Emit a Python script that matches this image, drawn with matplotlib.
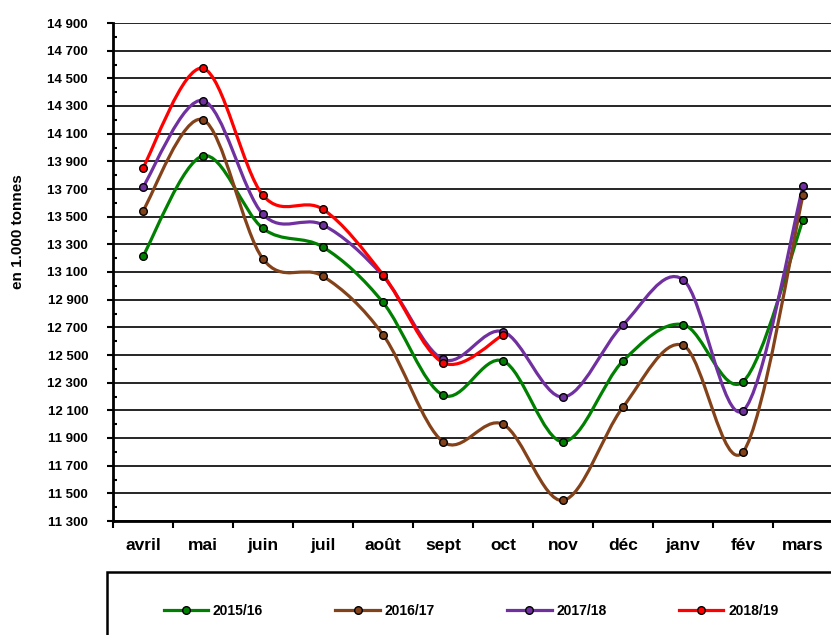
import numpy as np
import matplotlib
matplotlib.use("Agg")
import matplotlib.pyplot as plt
from matplotlib.path import Path
from matplotlib.patches import PathPatch, Rectangle
from matplotlib.lines import Line2D
from matplotlib.ticker import FuncFormatter

plt.rcParams['font.family'] = ['Liberation Sans', 'DejaVu Sans']
plt.rcParams['font.weight'] = 'bold'

# data (en 1.000 tonnes)
months = ['avril', 'mai', 'juin', 'juil', 'août', 'sept', 'oct',
          'nov', 'déc', 'janv', 'fév', 'mars']
s2015 = [13215, 13940, 13415, 13280, 12880, 12210, 12457, 11873, 12457, 12720, 12307, 13476]
s2016 = [13543, 14200, 13194, 13069, 12647, 11873, 11999, 11449, 12124, 12570, 11799, 13654]
s2017 = [13715, 14339, 13517, 13440, 13071, 12469, 12669, 12196, 12719, 13045, 12097, 13720]
s2018 = [13854, 14572, 13654, 13553, 13080, 12445, 12645]

labels = ['2015/16', '2016/17', '2017/18', '2018/19']
colors = ['#008000', '#84421a', '#7030a0', '#ff0000']
series = [s2015, s2016, s2017, s2018]


def smooth_path(xs, ys):
    # Catmull-Rom style bezier, like the spreadsheet "smoothed line"
    p = np.column_stack([xs, ys]).astype(float)
    n = len(p)
    verts = [p[0]]
    codes = [Path.MOVETO]
    for i in range(n - 1):
        p0 = p[i - 1] if i > 0 else p[i]
        p3 = p[i + 2] if i + 2 < n else p[i + 1]
        c1 = p[i] + (p[i + 1] - p0) / 6
        c2 = p[i + 1] - (p3 - p[i]) / 6
        verts += [c1, c2, p[i + 1]]
        codes += [Path.CURVE4] * 3
    return Path(verts, codes)


fig = plt.figure(figsize=(8.31, 6.35), dpi=100)
ax = fig.add_axes([113 / 831, 1 - 521 / 635, 720 / 831, 498 / 635])

for vals, col in zip(series, colors):
    x = np.arange(len(vals))
    ax.add_patch(PathPatch(smooth_path(x, vals), fill=False, edgecolor=col,
                           lw=2.3, zorder=3, clip_on=False))
    ax.plot(x, vals, 'o', ms=5.5, mfc=col, mec='black', mew=1.0, zorder=4,
            clip_on=False)

ax.set_xlim(-0.5, 11.5)
ax.set_ylim(11300, 14900)

ax.set_yticks(np.arange(11300, 14901, 200))
ax.set_yticks(np.arange(11400, 14900, 200), minor=True)
ax.yaxis.set_major_formatter(FuncFormatter(lambda v, p: f"{int(round(v)):,}".replace(',', ' ')))
ax.tick_params(axis='y', which='major', direction='out', length=4, width=1.5,
               pad=14, labelsize=9.5)
ax.tick_params(axis='y', which='minor', direction='in', length=3, width=1.5)
for lab in ax.get_yticklabels():
    lab.set_fontweight('bold')

ax.set_xticks(np.arange(12))
ax.set_xticklabels(months, fontsize=12.5, fontweight='bold')
ax.set_xticks(np.arange(-0.5, 12, 1), minor=True)
ax.tick_params(axis='x', which='major', length=0, pad=12)
ax.tick_params(axis='x', which='minor', direction='out', length=5, width=1.5)

ax.grid(True, axis='y', which='major', color='black', lw=1.2)
ax.set_axisbelow(True)
for side in ['top', 'right']:
    ax.spines[side].set_visible(False)
ax.spines['left'].set_linewidth(2)
ax.spines['bottom'].set_linewidth(2)

fig.text(18 / 831, 1 - 232 / 635, 'en 1.000 tonnes', rotation=90,
         ha='center', va='center', fontsize=11, fontweight='bold')

# legend box
fig.patches.append(Rectangle((107 / 831, -0.05), 0.95, 0.05 + 1 - 572 / 635,
                             transform=fig.transFigure, fill=False,
                             edgecolor='black', lw=1.8))
handles = [Line2D([], [], color=c, lw=2.3, marker='o', ms=5.5, mfc=c,
                  mec='black', mew=1.0) for c in colors]
fig.legend(handles, labels, loc='center', bbox_to_anchor=(471 / 831, 1 - 611 / 635),
           ncol=4, frameon=False, handlelength=3.2, handletextpad=0.35,
           columnspacing=5.2, prop={'size': 10, 'weight': 'bold'})

fig.savefig('out.png', dpi=100)
